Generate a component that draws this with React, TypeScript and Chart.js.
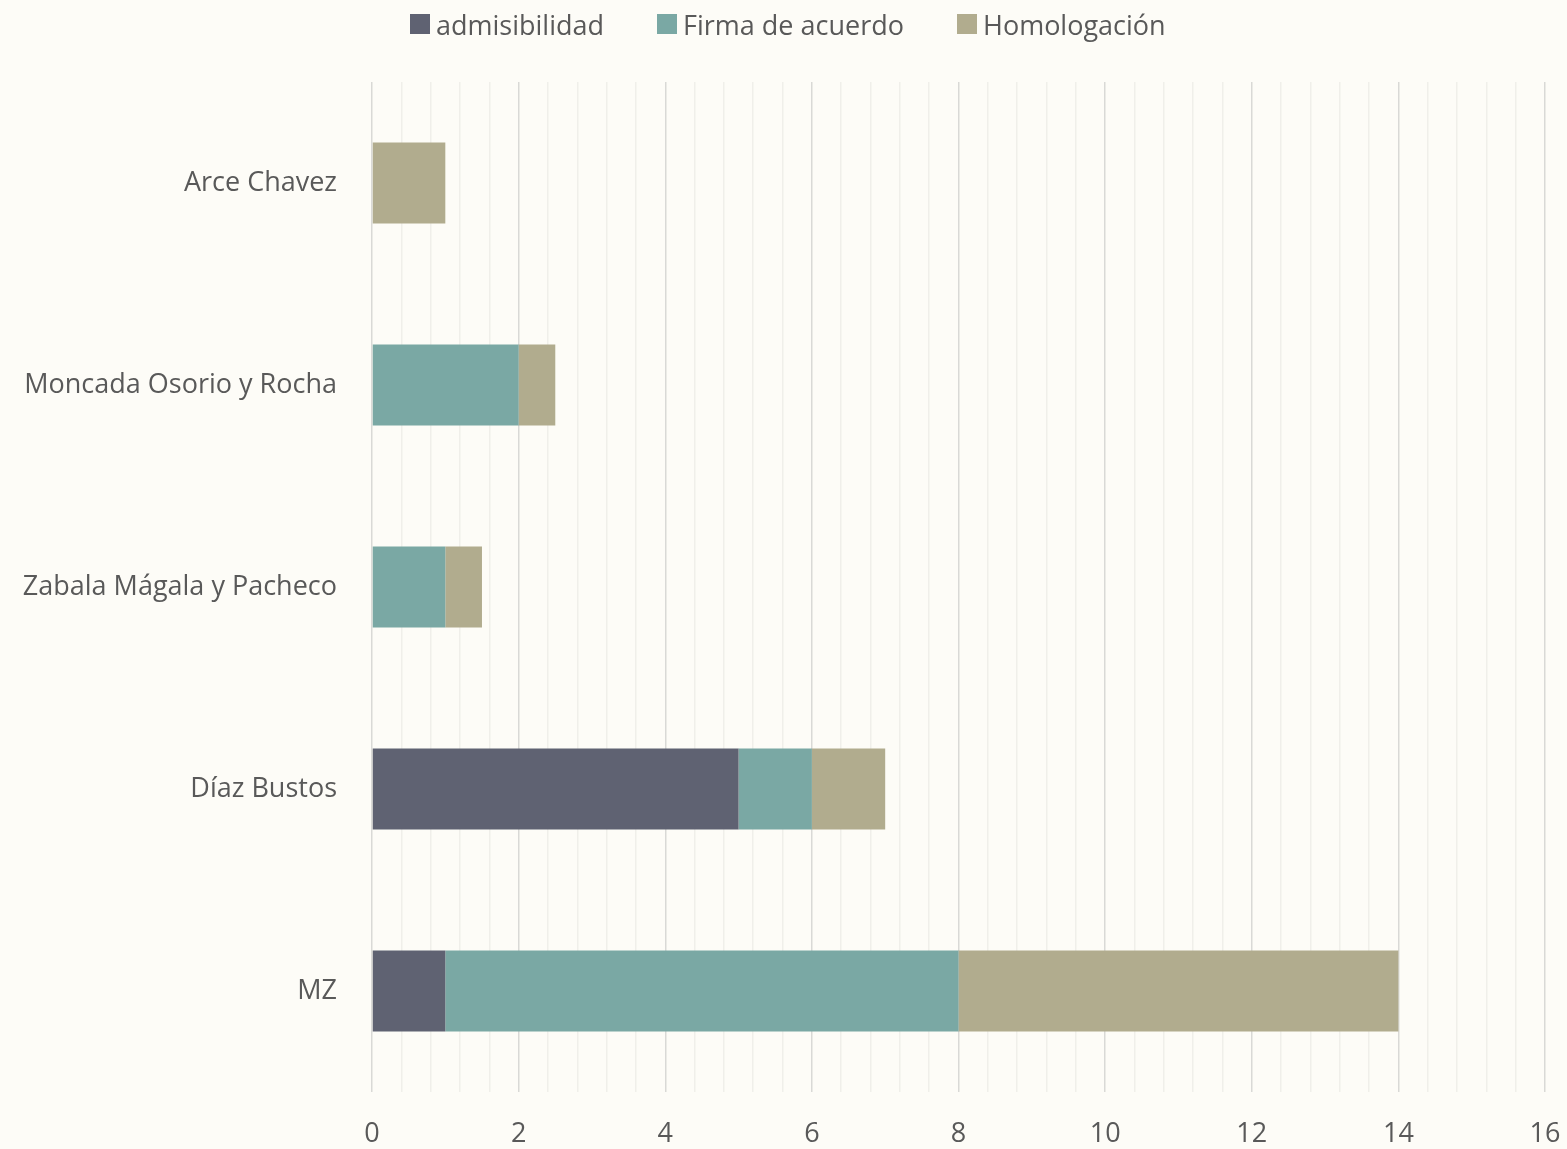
import React, { useEffect, useRef } from "react";
import { Chart, registerables } from "chart.js";

Chart.register(...registerables);

const categories = ["Arce Chavez", "Moncada Osorio y Rocha", "Zabala Mágala y Pacheco", "Díaz Bustos", "MZ"];
const admisibilidad = [0, 0, 0, 5, 1];
const firmaDeAcuerdo = [0, 2, 1, 1, 7];
const homologacion = [1, 0.5, 0.5, 1, 6];
const seriesNames = ["admisibilidad", "Firma de acuerdo", "Homologación"];
const seriesColors = ["#5F6272", "#7AA8A4", "#B1AC8E"];
const xMax = 16;
const majorStep = 2;
const minorPerMajor = 5;

const FONT = "'Open Sans', 'Noto Sans', sans-serif";
const TEXT = "#595959";
const FS = 27;

export default function App() {
  const ref = useRef<HTMLCanvasElement | null>(null);
  useEffect(() => {
    const bgPlugin = {
      id: "bg",
      beforeDraw(chart: any) {
        const c = chart.ctx;
        c.save();
        c.fillStyle = "#FDFCF7";
        c.fillRect(0, 0, chart.width, chart.height);
        c.restore();
      },
    };
    const chart = new Chart(ref.current as HTMLCanvasElement, {
      type: "bar",
      data: {
        labels: categories,
        datasets: [
          { label: seriesNames[0], data: admisibilidad, backgroundColor: seriesColors[0] },
          { label: seriesNames[1], data: firmaDeAcuerdo, backgroundColor: seriesColors[1] },
          { label: seriesNames[2], data: homologacion, backgroundColor: seriesColors[2] },
        ],
      },
      options: {
        indexAxis: "y",
        responsive: false,
        animation: false,
        maintainAspectRatio: false,
        layout: { padding: { left: 0, right: 0, top: 82, bottom: 0 } },
        datasets: { bar: { categoryPercentage: 0.8, barPercentage: 0.5 } },
        scales: {
          x: {
            stacked: true,
            min: 0,
            max: xMax,
            afterBuildTicks(axis: any) {
              const step = majorStep / minorPerMajor;
              const n = Math.round(xMax / step);
              const t = [];
              for (let i = 0; i <= n; i++) t.push({ value: +(i * step).toFixed(4), major: i % minorPerMajor === 0 });
              axis.ticks = t;
            },
            afterFit(axis: any) {
              axis.height = 57;
              axis.paddingRight = 22;
              axis.paddingLeft = 0;
            },
            ticks: {
              autoSkip: false,
              maxRotation: 0,
              padding: 26,
              color: TEXT,
              font: { family: FONT, size: FS },
              callback(v: any) {
                const val = Number(v);
                return Math.abs(val / majorStep - Math.round(val / majorStep)) < 1e-6 ? String(Math.round(val)) : "";
              },
            },
            grid: {
              drawTicks: false,
              lineWidth: 1.5,
              color(ctx: any) {
                const v = ctx.tick ? ctx.tick.value : 0;
                return Math.abs(v / majorStep - Math.round(v / majorStep)) < 1e-6 ? "#D9D9D6" : "#F0EFEA";
              },
            },
            border: { display: false },
          },
          y: {
            stacked: true,
            afterFit(axis: any) {
              axis.width = 372;
            },
            ticks: { color: TEXT, font: { family: FONT, size: FS }, padding: 27 },
            grid: { display: false },
            border: { display: false },
          },
        },
        plugins: {
          legend: { display: false },
          tooltip: { enabled: false },
        },
      },
      plugins: [bgPlugin],
    } as any);
    return () => chart.destroy();
  }, []);
  return (
    <div style={{ position: "fixed", left: 0, top: 0, width: 1567, height: 1149, background: "#FDFCF7" }}>
      <canvas ref={ref} width={1567} height={1149} style={{ display: "block" }} />
      <div
        style={{
          position: "absolute",
          left: 410,
          top: 4,
          height: 40,
          display: "flex",
          alignItems: "center",
          gap: 53,
          fontFamily: FONT,
          fontSize: FS,
          color: TEXT,
          whiteSpace: "nowrap",
        }}
      >
        {seriesNames.map((n, i) => (
          <div key={n} style={{ display: "flex", alignItems: "center" }}>
            <span style={{ display: "inline-block", width: 20, height: 20, background: seriesColors[i], marginRight: 6 }} />
            <span>{n}</span>
          </div>
        ))}
      </div>
    </div>
  );
}
